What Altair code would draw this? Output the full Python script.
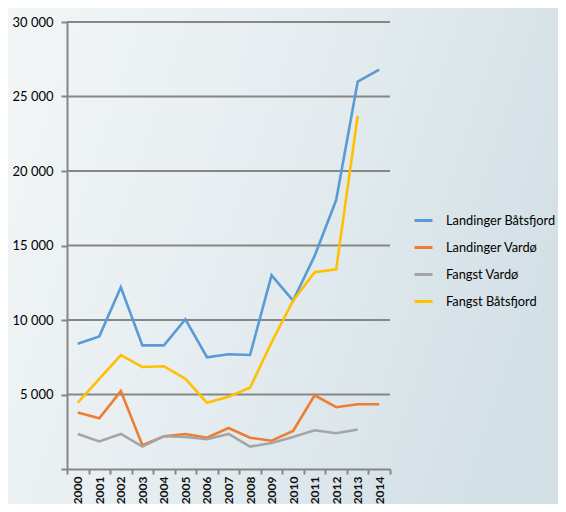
import altair as alt
import pandas as pd

years = [str(y) for y in range(2000, 2015)]
series_names = ["Landinger Båtsfjord", "Landinger Vardø", "Fangst Vardø", "Fangst Båtsfjord"]
colors = ["#5B9BD5", "#ED7D31", "#A5A5A5", "#FFC000"]
y_ticks = [0, 5000, 10000, 15000, 20000, 25000, 30000]

landinger_batsfjord = [8400, 8900, 12200, 8300, 8300, 10050, 7500, 7700, 7650, 13000, 11300, 14300, 18050, 26000, 26800]
landinger_vardo = [3800, 3400, 5230, 1600, 2200, 2350, 2100, 2750, 2100, 1900, 2550, 4950, 4150, 4350, 4350]
fangst_vardo = [2350, 1850, 2350, 1500, 2200, 2150, 2000, 2350, 1500, 1750, 2150, 2600, 2400, 2650, None]
fangst_batsfjord = [4450, 6050, 7650, 6850, 6900, 6050, 4450, 4850, 5450, 8500, 11300, 13200, 13400, 23700, None]

rows = []
for name, vals in zip(series_names, [landinger_batsfjord, landinger_vardo, fangst_vardo, fangst_batsfjord]):
    for y, v in zip(years, vals):
        if v is not None:
            rows.append({"year": y, "value": v, "series": name})
df = pd.DataFrame(rows)

W, H = 323, 447

bg = alt.Chart(pd.DataFrame({"a": [0]})).mark_rect(
    clip=False,
    color=alt.Gradient(
        gradient="linear",
        stops=[alt.GradientStop(color="#f3f6f7", offset=0),
               alt.GradientStop(color="#e6edf0", offset=0.5),
               alt.GradientStop(color="#d3e0e6", offset=1)],
        x1=0, x2=1, y1=0, y2=0.3,
    ),
).encode(
    x=alt.value(-70), x2=alt.value(W + 200),
    y=alt.value(-30), y2=alt.value(H + 60),
)

yscale = alt.Scale(domain=[0, 30000], nice=False)

grid = alt.Chart(pd.DataFrame({"v": y_ticks[1:]})).mark_rule(
    color="#868686", strokeWidth=1.8
).encode(y=alt.Y("v:Q", scale=yscale))

lines = alt.Chart(df).mark_line(strokeWidth=2.6).encode(
    x=alt.X("year:O", sort=years,
            scale=alt.Scale(type="band", paddingInner=0, paddingOuter=0),
            axis=alt.Axis(title=None, labelAngle=-90, tickBand="extent", grid=False,
                          domainColor="#868686", domainWidth=2, tickColor="#868686",
                          tickWidth=2, tickSize=5, labelFont="Lato", labelFontSize=12,
                          labelFontWeight="bold", labelColor="#111111", labelPadding=2,
                          labelAlign="right", labelBaseline="middle", zindex=1)),
    y=alt.Y("value:Q", scale=yscale,
            axis=alt.Axis(title=None, values=y_ticks,
                          labelExpr="datum.value == 0 ? '' : replace(format(datum.value, ','), ',', ' ')",
                          grid=False,
                          domainColor="#868686", domainWidth=2, tickColor="#868686",
                          tickWidth=2, tickSize=6, labelFont="Lato", labelFontSize=13,
                          labelColor="#000000", labelPadding=8, zindex=1)),
    color=alt.Color("series:N",
                    scale=alt.Scale(domain=series_names, range=colors),
                    legend=alt.Legend(title=None, orient="none", legendX=346, legendY=188,
                                      symbolType="stroke", symbolSize=324, symbolStrokeWidth=3,
                                      labelFont="Lato", labelFontSize=12.8, labelColor="#000000",
                                      rowPadding=9, labelOffset=12, padding=0)),
)

chart = alt.layer(bg, grid, lines).properties(
    width=W, height=H,
    autosize=alt.AutoSizeParams(type="none"),
    padding={"left": 59, "top": 14, "right": 168, "bottom": 35},
    background="#eef2f4",
).configure_view(stroke=None)

chart.save("out.html", embed_options={"renderer": "svg", "actions": False})
